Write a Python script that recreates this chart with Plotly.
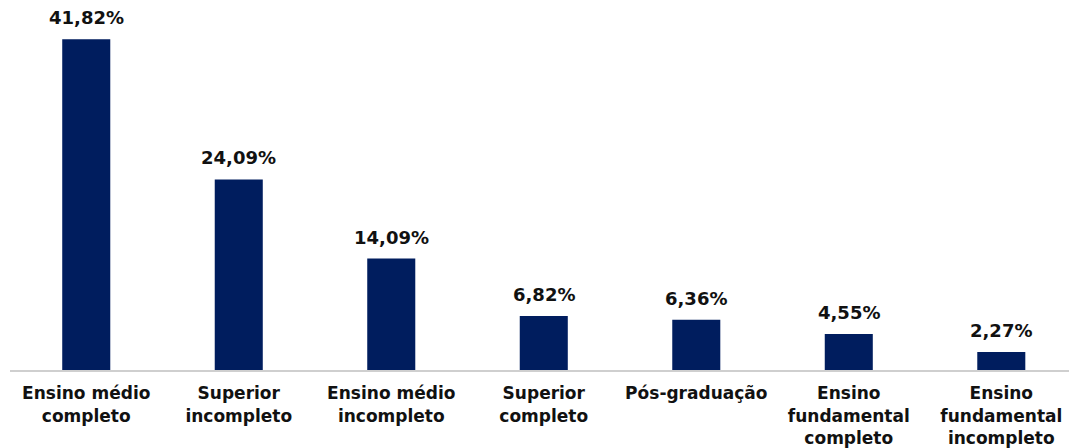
import plotly.graph_objects as go

categories = [
    "Ensino médio<br>completo",
    "Superior<br>incompleto",
    "Ensino médio<br>incompleto",
    "Superior<br>completo",
    "Pós-graduação",
    "Ensino<br>fundamental<br>completo",
    "Ensino<br>fundamental<br>incompleto",
]
values = [41.82, 24.09, 14.09, 6.82, 6.36, 4.55, 2.27]
labels = [f"{v:.2f}%".replace(".", ",") for v in values]

positions = list(range(len(categories)))
tick_font = dict(family="DejaVu Sans", size=17, color="#111111", weight="bold")
value_font = dict(family="DejaVu Sans", size=18, color="#111111", weight="bold")

fig = go.Figure(
    go.Bar(
        x=positions,
        y=values,
        marker=dict(color="#001d5e", line=dict(width=0)),
        width=0.315,
        hoverinfo="skip",
    )
)

# value labels above each bar
for x, v, t in zip(positions, values, labels):
    fig.add_annotation(
        x=x, y=v, text=t, showarrow=False,
        yanchor="bottom", yshift=9,
        font=value_font,
    )

fig.update_layout(
    width=1069,
    height=448,
    margin=dict(l=10, r=0, t=0, b=75),
    paper_bgcolor="white",
    plot_bgcolor="white",
    showlegend=False,
    font=tick_font,
    xaxis=dict(
        tickmode="array",
        tickvals=positions,
        ticktext=categories,
        range=[-0.5, 6.444],
        showgrid=False,
        zeroline=False,
        showline=True,
        linecolor="#cfcfcf",
        linewidth=2,
        ticks="",
        ticklabelstandoff=7,
        tickfont=tick_font,
    ),
    yaxis=dict(
        range=[0, 46.77],
        visible=False,
    ),
)

fig.write_html("out.html")
